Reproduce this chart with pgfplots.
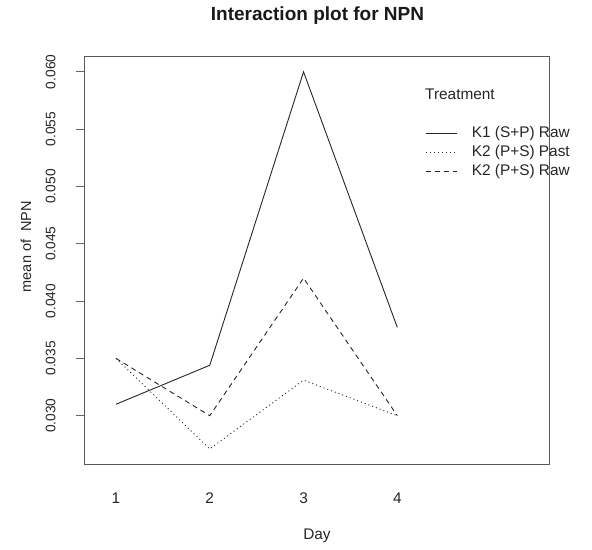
\documentclass[border=0pt]{standalone}
\usepackage{fontspec}
\setmainfont{Liberation Sans}
\usepackage{pgfplots}
\pgfplotsset{compat=1.18}
\begin{document}
\begin{tikzpicture}
\useasboundingbox (0,0) rectangle (592bp,550bp);
\begin{axis}[
  at={(84.3bp,85.7bp)}, anchor=south west,
  scale only axis, width=465.4bp, height=407.6bp,
  xmin=0.662, xmax=5.625, ymin=0.02576, ymax=0.06132,
  axis line style={draw=black!65, line width=1bp},
  xtick={1,2,3,4}, xticklabels={1,2,3,4}, xtick align=inside, xtick style={draw=none},
  ytick={0.030,0.035,0.040,0.045,0.050,0.055,0.060},
  yticklabels={0.030,0.035,0.040,0.045,0.050,0.055,0.060},
  ytick pos=left, ytick align=outside, major tick length=8bp,
  ytick style={draw=black!60, line width=0.9bp},
  scaled y ticks=false,
  xticklabel style={font=\fontsize{15.4bp}{18bp}\selectfont, anchor=base, inner sep=0pt, yshift=-39bp, text=black!85},
  yticklabel style={font=\fontsize{13.75bp}{16bp}\selectfont, xshift=-21bp, rotate=90, anchor=base, inner sep=0pt, text=black!85},
  title={Interaction plot for NPN},
  title style={at={(axis description cs:0.501,1.0736)}, anchor=base, inner sep=0pt, font=\bfseries\fontsize{19bp}{22bp}\selectfont, text=black!90},
  xlabel={Day},
  xlabel style={at={(axis description cs:0.5,-0.1857)}, anchor=base, inner sep=0pt, font=\fontsize{15.4bp}{18bp}\selectfont, text=black!85},
  ylabel={mean of \ NPN},
  ylabel style={at={(axis description cs:-0.1253,0.534)}, anchor=center, inner sep=0pt, font=\fontsize{14.5bp}{17bp}\selectfont, text=black!85},
  legend style={draw=none, fill=none, at={(axis description cs:0.732,0.8283)}, anchor=north west,
    inner sep=0pt, row sep=5bp, column sep=14.7bp,
    nodes={inner sep=0pt, text height=11bp, text depth=3bp, text=black!85},
    font=\fontsize{15.4bp}{18bp}\selectfont},
  legend cell align=left,
  legend image code/.code={\draw[#1] (0bp,0bp) -- (31bp,0bp);},
]
\addplot[black!85, line width=0.9bp] coordinates {(1,0.0310) (2,0.0344) (3,0.0600) (4,0.0377)};
\addlegendentry{K1 (S+P) Raw}
\addplot[black!85, line width=0.9bp, dash pattern=on 1bp off 3bp] coordinates {(1,0.0350) (2,0.0271) (3,0.0331) (4,0.0300)};
\addlegendentry{K2 (P+S) Past}
\addplot[black!85, line width=0.9bp, dash pattern=on 5bp off 4bp] coordinates {(1,0.0350) (2,0.0300) (3,0.0420) (4,0.0300)};
\addlegendentry{K2 (P+S) Raw}
\node[anchor=base west, inner sep=0pt, font=\fontsize{15.4bp}{18bp}\selectfont, text=black!85] at (axis description cs:0.732,0.8938) {Treatment};
\end{axis}
\end{tikzpicture}
\end{document}
